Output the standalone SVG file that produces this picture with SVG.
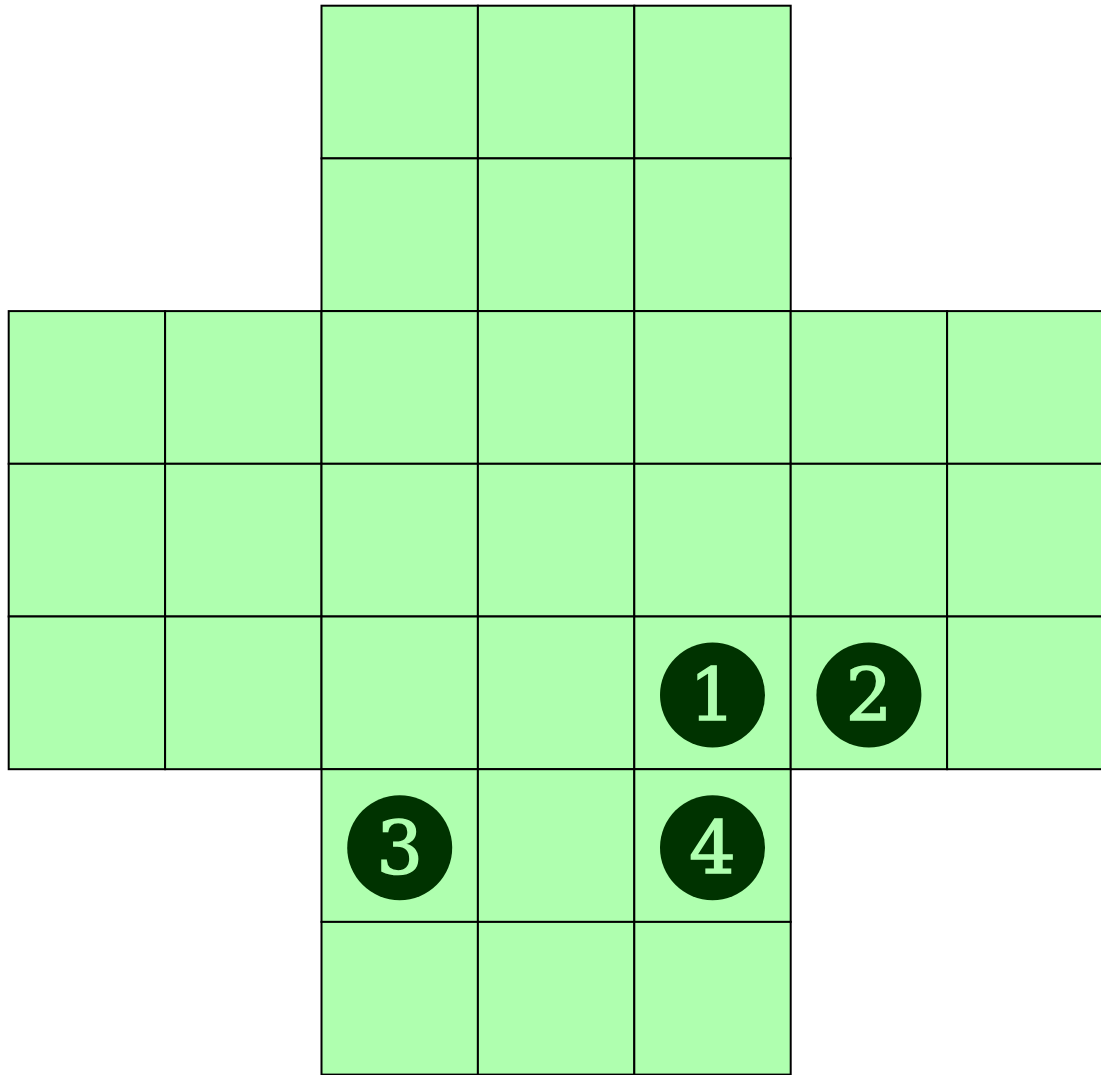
<svg xmlns="http://www.w3.org/2000/svg" width="1101" height="1075" viewBox="0 0 1101 1075">
<style>
.c{fill:#afffaf;stroke:#000;stroke-width:2}
.d{fill:#003300}
.t{fill:#afffaf;stroke:#afffaf;stroke-width:1.6;font-family:"DejaVu Serif",serif;font-size:73px;text-anchor:middle}
</style>
<rect width="1101" height="1075" fill="#fff"/>
<g id="grid">
<rect class="c" x="321.5" y="5.7" width="156.4" height="152.7"/>
<rect class="c" x="477.9" y="5.7" width="156.4" height="152.7"/>
<rect class="c" x="634.3" y="5.7" width="156.4" height="152.7"/>
<rect class="c" x="321.5" y="158.4" width="156.4" height="152.7"/>
<rect class="c" x="477.9" y="158.4" width="156.4" height="152.7"/>
<rect class="c" x="634.3" y="158.4" width="156.4" height="152.7"/>
<rect class="c" x="8.7" y="311.1" width="156.4" height="152.7"/>
<rect class="c" x="165.1" y="311.1" width="156.4" height="152.7"/>
<rect class="c" x="321.5" y="311.1" width="156.4" height="152.7"/>
<rect class="c" x="477.9" y="311.1" width="156.4" height="152.7"/>
<rect class="c" x="634.3" y="311.1" width="156.4" height="152.7"/>
<rect class="c" x="790.7" y="311.1" width="156.4" height="152.7"/>
<rect class="c" x="947.1" y="311.1" width="156.4" height="152.7"/>
<rect class="c" x="8.7" y="463.8" width="156.4" height="152.7"/>
<rect class="c" x="165.1" y="463.8" width="156.4" height="152.7"/>
<rect class="c" x="321.5" y="463.8" width="156.4" height="152.7"/>
<rect class="c" x="477.9" y="463.8" width="156.4" height="152.7"/>
<rect class="c" x="634.3" y="463.8" width="156.4" height="152.7"/>
<rect class="c" x="790.7" y="463.8" width="156.4" height="152.7"/>
<rect class="c" x="947.1" y="463.8" width="156.4" height="152.7"/>
<rect class="c" x="8.7" y="616.5" width="156.4" height="152.7"/>
<rect class="c" x="165.1" y="616.5" width="156.4" height="152.7"/>
<rect class="c" x="321.5" y="616.5" width="156.4" height="152.7"/>
<rect class="c" x="477.9" y="616.5" width="156.4" height="152.7"/>
<rect class="c" x="634.3" y="616.5" width="156.4" height="152.7"/>
<rect class="c" x="790.7" y="616.5" width="156.4" height="152.7"/>
<rect class="c" x="947.1" y="616.5" width="156.4" height="152.7"/>
<rect class="c" x="321.5" y="769.2" width="156.4" height="152.7"/>
<rect class="c" x="477.9" y="769.2" width="156.4" height="152.7"/>
<rect class="c" x="634.3" y="769.2" width="156.4" height="152.7"/>
<rect class="c" x="321.5" y="921.9" width="156.4" height="152.7"/>
<rect class="c" x="477.9" y="921.9" width="156.4" height="152.7"/>
<rect class="c" x="634.3" y="921.9" width="156.4" height="152.7"/>
</g>
<g id="p1"><circle class="d" cx="712.5" cy="695" r="52.5"/><text class="t" x="712.5" y="721">1</text></g>
<g id="p2"><circle class="d" cx="868.9" cy="695" r="52.5"/><text class="t" x="868.9" y="721">2</text></g>
<g id="p3"><circle class="d" cx="399.7" cy="847.7" r="52.5"/><text class="t" x="399.7" y="873.7">3</text></g>
<g id="p4"><circle class="d" cx="712.5" cy="847.7" r="52.5"/><text class="t" x="712.5" y="873.7">4</text></g>
<g id="connectors"/>
</svg>
